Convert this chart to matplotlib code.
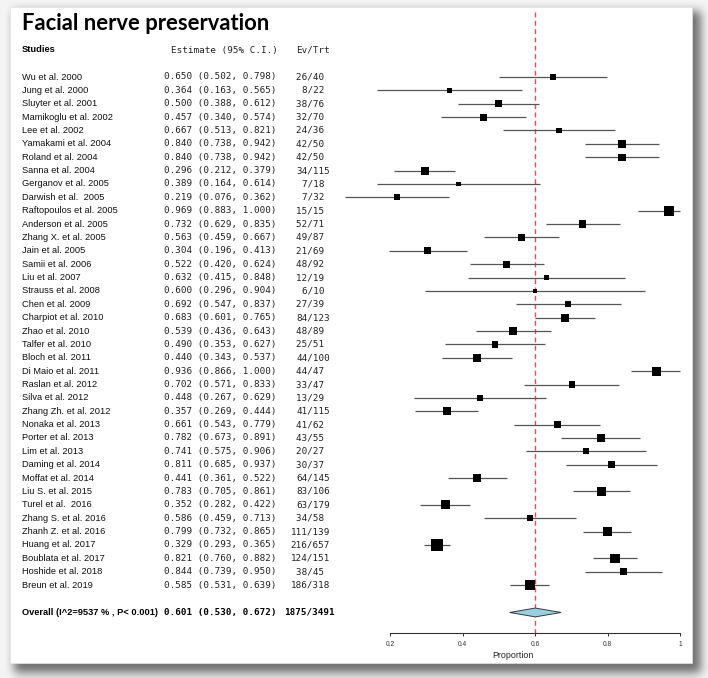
import numpy as np
import matplotlib
matplotlib.use("Agg")
import matplotlib.pyplot as plt
from matplotlib.transforms import blended_transform_factory
from matplotlib.patches import Rectangle, Polygon

# ---------------- data ----------------
studies = ["Wu et al. 2000", "Jung et al. 2000", "Sluyter et al. 2001", "Mamikoglu et al. 2002",
           "Lee et al. 2002", "Yamakami et al. 2004", "Roland et al. 2004", "Sanna et al. 2004",
           "Gerganov et al. 2005", "Darwish et al.  2005", "Raftopoulos et al. 2005",
           "Anderson et al. 2005", "Zhang X. et al. 2005", "Jain et al. 2005", "Samii et al. 2006",
           "Liu et al. 2007", "Strauss et al. 2008", "Chen et al. 2009", "Charpiot et al. 2010",
           "Zhao et al. 2010", "Talfer et al. 2010", "Bloch et al. 2011", "Di Maio et al. 2011",
           "Raslan et al. 2012", "Silva et al. 2012", "Zhang Zh. et al. 2012", "Nonaka et al. 2013",
           "Porter et al. 2013", "Lim et al. 2013", "Daming et al. 2014", "Moffat et al. 2014",
           "Liu S. et al. 2015", "Turel et al.  2016", "Zhang S. et al. 2016", "Zhanh Z. et al. 2016",
           "Huang et al. 2017", "Boublata et al. 2017", "Hoshide et al. 2018", "Breun et al. 2019"]
est = [0.650, 0.364, 0.500, 0.457, 0.667, 0.840, 0.840, 0.296, 0.389, 0.219, 0.969, 0.732, 0.563,
       0.304, 0.522, 0.632, 0.600, 0.692, 0.683, 0.539, 0.490, 0.440, 0.936, 0.702, 0.448, 0.357,
       0.661, 0.782, 0.741, 0.811, 0.441, 0.783, 0.352, 0.586, 0.799, 0.329, 0.821, 0.844, 0.585]
lo = [0.502, 0.163, 0.388, 0.340, 0.513, 0.738, 0.738, 0.212, 0.164, 0.076, 0.883, 0.629, 0.459,
      0.196, 0.420, 0.415, 0.296, 0.547, 0.601, 0.436, 0.353, 0.343, 0.866, 0.571, 0.267, 0.269,
      0.543, 0.673, 0.575, 0.685, 0.361, 0.705, 0.282, 0.459, 0.732, 0.293, 0.760, 0.739, 0.531]
hi = [0.798, 0.565, 0.612, 0.574, 0.821, 0.942, 0.942, 0.379, 0.614, 0.362, 1.000, 0.835, 0.667,
      0.413, 0.624, 0.848, 0.904, 0.837, 0.765, 0.643, 0.627, 0.537, 1.000, 0.833, 0.629, 0.444,
      0.779, 0.891, 0.906, 0.937, 0.522, 0.861, 0.422, 0.713, 0.865, 0.365, 0.882, 0.950, 0.639]
ev = [26, 8, 38, 32, 24, 42, 42, 34, 7, 7, 15, 52, 49, 21, 48, 12, 6, 27, 84, 48, 25, 44, 44, 33,
      13, 41, 41, 43, 20, 30, 64, 83, 63, 34, 111, 216, 124, 38, 186]
trt = [40, 22, 76, 70, 36, 50, 50, 115, 18, 32, 15, 71, 87, 69, 92, 19, 10, 39, 123, 89, 51, 100,
       47, 47, 29, 115, 62, 55, 27, 37, 145, 106, 179, 58, 139, 657, 151, 45, 318]
overall_label = "Overall (I^2=9537 % , P< 0.001)"
overall_est, overall_lo, overall_hi = 0.601, 0.530, 0.672
overall_ev, overall_trt = 1875, 3491
xticks = [0.2, 0.4, 0.6, 0.8, 1.0]
xticklabels = ["0.2", "0.4", "0.6", "0.8", "1"]

# ---------------- layout ----------------
W, H = 708, 678
ROW0, DY = 77.0, 13.37          # pixel y of first row and row spacing
def prow(px):                    # pixel y -> row coordinate
    return (px - ROW0) / DY

fig = plt.figure(figsize=(W / 100, H / 100), dpi=100)
bg = fig.add_axes([0, 0, 1, 1])
bg.set_xlim(0, W); bg.set_ylim(H, 0); bg.axis("off")

# background with drop shadow
yy, xx = np.mgrid[0:H, 0:W]
mask = ((xx >= 14) & (xx < 701) & (yy >= 11) & (yy < 673)).astype(float)
def blur(a, r, axis):
    k = np.ones(2 * r + 1) / (2 * r + 1)
    return np.apply_along_axis(lambda v: np.convolve(np.pad(v, r, mode="edge"), k, mode="valid"), axis, a)
for _ in range(3):
    mask = blur(blur(mask, 4, 0), 4, 1)
g = 0.96 - 0.52 * mask
bg.imshow(np.dstack([g, g, g]), extent=(0, W, H, 0), aspect="auto", zorder=0)
bg.add_patch(Rectangle((10, 7), 682, 656, facecolor="white", edgecolor="#e4e4e4", lw=0.5, zorder=1))

# title
bg.text(22, 29.5, "Facial nerve preservation", fontsize=15.8, fontweight="bold",
        family=["Lato", "DejaVu Sans"], ha="left", va="baseline", zorder=3)

# forest axes: x 0.0 -> px 317.5, 1.05 -> px 698.1 ; 0.2 at 390, 1.0 at 680
px_per = 362.5
x0_px = 390 - 0.2 * px_per
x1_px = x0_px + 1.05 * px_per
top_px, bot_px = 5, 665
ax = fig.add_axes([x0_px / W, 1 - bot_px / H, (x1_px - x0_px) / W, (bot_px - top_px) / H])
ax.set_xlim(0, 1.05)
ax.set_ylim(prow(bot_px), prow(top_px))
ax.patch.set_alpha(0)
for s in ["top", "left", "right"]:
    ax.spines[s].set_visible(False)
axis_row = prow(632.7)
ax.spines["bottom"].set_position(("data", axis_row))
ax.spines["bottom"].set_bounds(0.2, 1.0)
ax.spines["bottom"].set_color("#333333")
ax.spines["bottom"].set_linewidth(0.8)
ax.set_xticks(xticks)
ax.set_xticklabels(xticklabels, family=["Liberation Sans", "DejaVu Sans"])
ax.tick_params(axis="x", direction="out", length=2.5, width=0.7, colors="#333333",
               labelsize=4.8, pad=3.6, labelcolor="#333333")
ax.set_yticks([])

rows = np.arange(len(studies))
est_a, lo_a, hi_a = np.array(est), np.array(lo), np.array(hi)

# reference line at overall estimate
ax.plot([overall_est, overall_est], [prow(12), axis_row], color="#ee4a57", lw=1.0,
        ls=(0, (3.5, 2.5)), clip_on=False, zorder=1)

# CI lines
ax.hlines(rows, lo_a, hi_a, color="#555555", lw=0.9, zorder=2)
# boxes (size ~ precision)
side_px = 3.3 / np.sqrt(hi_a - lo_a)
ax.scatter(est_a, rows, marker="s", s=(side_px * 0.72) ** 2, color="black", linewidths=0, zorder=3)

# overall diamond
orow = 40.05
hh = 0.33
ax.add_patch(Polygon([(overall_lo, orow), (overall_est, orow - hh), (overall_hi, orow),
                      (overall_est, orow + hh)], closed=True, facecolor="#97cfe3",
                     edgecolor="#3a3a3a", lw=0.7, zorder=3))

# text columns
tr = blended_transform_factory(bg.transData, ax.transData)
sans = ["Liberation Sans", "DejaVu Sans"]
mono = ["DejaVu Sans Mono"]
fs = 6.7
ms = 6.65
hdr = prow(50)
ax.text(22, hdr, "Studies", transform=tr, fontsize=fs, fontweight="bold", family=sans, va="center")
ax.text(278, hdr, "Estimate (95% C.I.)", transform=tr, fontsize=ms, family=mono, va="center",
        ha="right", color="#222222")
ax.text(330, hdr, "Ev/Trt", transform=tr, fontsize=ms, family=mono, va="center", ha="right",
        color="#222222")
for i, name in enumerate(studies):
    ax.text(22, i, name, transform=tr, fontsize=fs, family=sans, va="center", color="#111111")
    ax.text(277, i, f"{est[i]:.3f} ({lo[i]:.3f}, {hi[i]:.3f})", transform=tr, fontsize=ms,
            family=mono, va="center", ha="right", color="#222222")
    ax.text(330, i, f"{ev[i]}/{trt[i]:<3d}", transform=tr, fontsize=ms, family=mono,
            va="center", ha="right", color="#222222")
ax.text(22, orow, overall_label, transform=tr, fontsize=fs, fontweight="bold", family=sans,
        va="center")
ax.text(277, orow, f"{overall_est:.3f} ({overall_lo:.3f}, {overall_hi:.3f})", transform=tr,
        fontsize=ms, family=mono, fontweight="bold", va="center", ha="right")
ax.text(335, orow, f"{overall_ev}/{overall_trt}", transform=tr, fontsize=ms, family=mono,
        fontweight="bold", va="center", ha="right")

bg.text(513, 655, "Proportion", fontsize=6.4, family=sans, ha="center", va="center",
        color="#222222", zorder=3)

fig.savefig("out.png", dpi=100)
